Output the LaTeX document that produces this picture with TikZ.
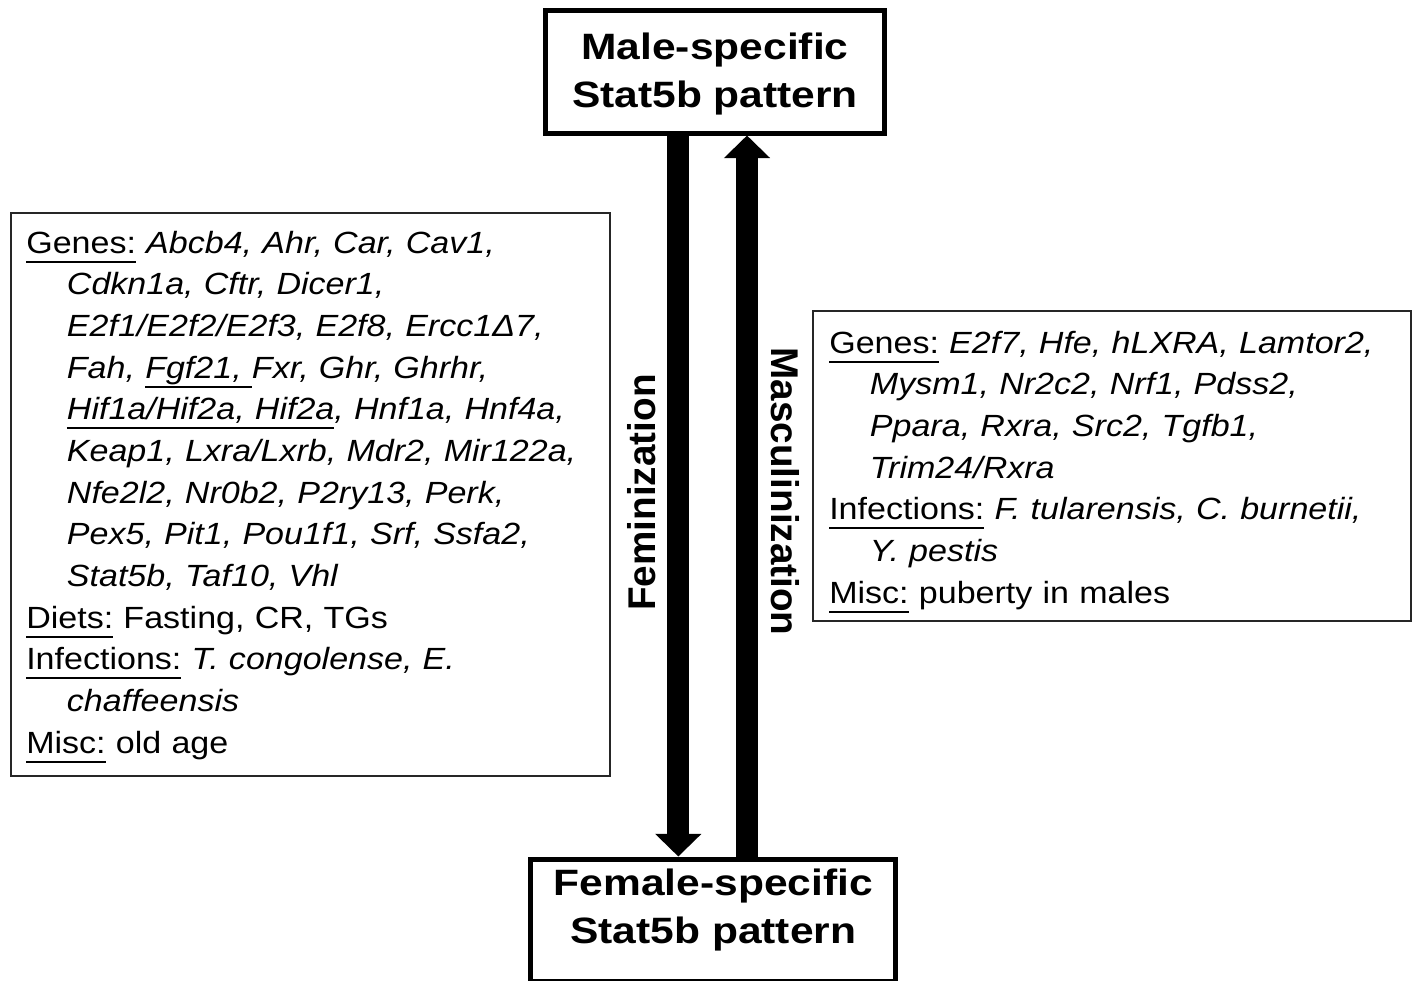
\documentclass[tikz,border=0pt]{standalone}
\usepackage{fontspec}
\setmainfont{Liberation Sans}
\newfontfamily\bodyfont{Liberation Sans}[FakeStretch=1.11]
\newfontfamily\titlefont{Liberation Sans}[FakeStretch=1.16]
\usetikzlibrary{arrows.meta,fit}
\newcommand\ulx[1]{\leavevmode\setbox0\hbox{#1}\rlap{\rule[-7pt]{\wd0}{1.5pt}}\box0\relax}
\newcommand\ind{\hspace*{30.5pt}}
\begin{document}
\begin{tikzpicture}[x=0.75pt,y=-0.75pt,
 titlebox/.style={draw=black, line width=3.75pt, inner sep=0pt},
 titletext/.style={font=\titlefont\bfseries\fontsize{27.5}{36}\selectfont, align=center, inner sep=0pt},
 infobox/.style={draw=black!85, line width=1.5pt, inner sep=0pt},
 infotext/.style={font=\bodyfont\fontsize{23}{31.25}\selectfont, align=left, text width=520pt, inner sep=0pt, anchor=north west},
 bigarrow/.style={line width=16.5pt, -{Triangle[width=33.75pt,length=17pt]}},
 lbl/.style={font=\bfseries\fontsize{29}{34}\selectfont, inner sep=0pt}]
\fill[white] (0,0) rectangle (1414,981);
\useasboundingbox (0,0) rectangle (1414,981);

\node[titlebox, minimum width=254.25pt, minimum height=91.875pt] (top) at (715,71.75) {};
\node[titletext] (toptext) at (715,74) {Male-specific\\Stat5b pattern};
\node[titlebox, minimum width=273.4pt, minimum height=91.875pt] (bot) at (713.25,920.25) {};
\node[titletext] (bottext) at (713.25,910.5) {Female-specific\\Stat5b pattern};

\coordinate (dnx) at (678.3,0);
\coordinate (upx) at (747,0);
\draw[bigarrow] (top.south -| dnx) -- (bot.north -| dnx);
\draw[bigarrow] (bot.north -| upx) -- (top.south -| upx);

\node[lbl, rotate=90] (fem) at (641.5,492.5) {Feminization};
\node[lbl, rotate=-90] (masc) at (785,491.5) {Masculinization};

\node[infobox, fit={(10.5,213) (609.7,775.5)}] (lbox) {};
\node[infotext] (ltext) at (26,221) {\rule{0pt}{24pt}\ulx{Genes:} \textit{Abcb4, Ahr, Car, Cav1,}\\
\ind\textit{Cdkn1a, Cftr, Dicer1,}\\
\ind\textit{E2f1/E2f2/E2f3, E2f8, Ercc1Δ7,}\\
\ind\textit{Fah, }\ulx{\textit{Fgf21, }}\textit{Fxr, Ghr, Ghrhr,}\\
\ind\ulx{\textit{Hif1a/Hif2a, Hif2a}}\textit{, Hnf1a, Hnf4a,}\\
\ind\textit{Keap1, Lxra/Lxrb, Mdr2, Mir122a,}\\
\ind\textit{Nfe2l2, Nr0b2, P2ry13, Perk,}\\
\ind\textit{Pex5, Pit1, Pou1f1, Srf, Ssfa2,}\\
\ind\textit{Stat5b, Taf10, Vhl}\\
\ulx{Diets:} Fasting, CR, TGs\\
\ulx{Infections:} \textit{T. congolense, E.}\\
\ind\textit{chaffeensis}\\
\ulx{Misc:} old age};

\node[infobox, fit={(813,310.7) (1411,621)}] (rbox) {};
\node[infotext] (rtext) at (829,321) {\rule{0pt}{24pt}\ulx{Genes:} \textit{E2f7, Hfe, hLXRA, Lamtor2,}\\
\ind\textit{Mysm1, Nr2c2, Nrf1, Pdss2,}\\
\ind\textit{Ppara, Rxra, Src2, Tgfb1,}\\
\ind\textit{Trim24/Rxra}\\
\ulx{Infections:} \textit{F. tularensis, C. burnetii,}\\
\ind\textit{Y. pestis}\\
\ulx{Misc:} puberty in males};
\end{tikzpicture}
\end{document}
